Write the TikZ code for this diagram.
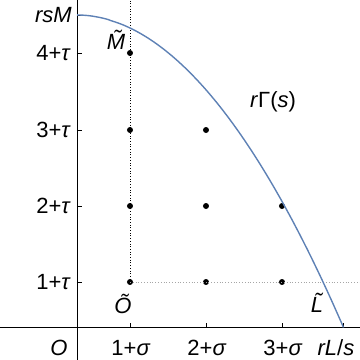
\documentclass[tikz,border=0pt]{standalone}
\usepackage{fontspec}
\setmainfont{Liberation Sans}
\begin{document}
\begin{tikzpicture}[x=1pt,y=1pt,
  lbl/.style={font=\fontsize{22}{26}\selectfont, inner sep=0pt},
  pt/.style={circle, fill=black, inner sep=0pt, minimum size=6pt},
  axisline/.style={line width=0.9pt, black},
  tick/.style={line width=0.8pt, black}]
\definecolor{curveblue}{RGB}{94,129,181}
\useasboundingbox (0,0) rectangle (360,360);
% axes
\coordinate (xl) at (0,32.5); \coordinate (xr) at (360,32.5);
\coordinate (yb) at (77,0); \coordinate (yt) at (77,360);
\draw[axisline] (xl) -- (xr);
\draw[axisline] (yb) -- (yt);
% dotted guides
\coordinate (vtop) at (130,360);
\coordinate (hright) at (360,78);
% dots
\node[pt] (p11) at (130,78) {};
\node[pt] (p12) at (130,154) {};
\node[pt] (p13) at (130,230) {};
\node[pt] (p14) at (130,307) {};
\node[pt] (p21) at (206,78) {};
\node[pt] (p22) at (206,154) {};
\node[pt] (p23) at (206,230) {};
\node[pt] (p31) at (282,78) {};
\node[pt] (p32) at (282,154) {};
\draw[dotted, line width=0.7pt] (p11.center) -- (vtop);
\draw[dotted, gray!70, line width=0.8pt] (p11.center) -- (hright);
% ticks
\foreach \x in {130,206,282,343.5} \draw[tick] (\x,32.5) -- (\x,37.5);
\foreach \y in {78,154,230,307,345} \draw[tick] (77,\y) -- (82,\y);
% curve
\draw[curveblue, line width=1.4pt] plot[domain=77.2:343.5, samples=120, smooth] (\x, {345 - 312.5*((\x-77)/266.5)^1.97});
\draw[curveblue, line width=1.4pt] (77,345) -- (77.2,345);
% labels
\node[lbl, anchor=east] (lrsm) at (72,345) {\textit{rsM}};
\node[lbl, anchor=east] (l4) at (71,307) {4+\textit{τ}};
\node[lbl, anchor=east] (l3) at (71,230) {3+\textit{τ}};
\node[lbl, anchor=east] (l2) at (71,154) {2+\textit{τ}};
\node[lbl, anchor=east] (l1) at (71,78) {1+\textit{τ}};
\node[lbl] (lM) at (116,320) {\textit{\~{M}}};
\node[lbl] (lG) at (273,258) {\textit{r}Γ(\textit{s})};
\node[lbl] (lO2) at (123,56) {\textit{Õ}};
\node[lbl] (lL) at (317,57) {\textit{\~{L}}};
\node[lbl] (lO) at (59,12) {\textit{O}};
\node[lbl] (ls1) at (131,12) {1+\textit{σ}};
\node[lbl] (ls2) at (207,12) {2+\textit{σ}};
\node[lbl] (ls3) at (283,12) {3+\textit{σ}};
\node[lbl] (lrl) at (336,12) {\textit{rL}/\textit{s}};
\end{tikzpicture}
\end{document}
